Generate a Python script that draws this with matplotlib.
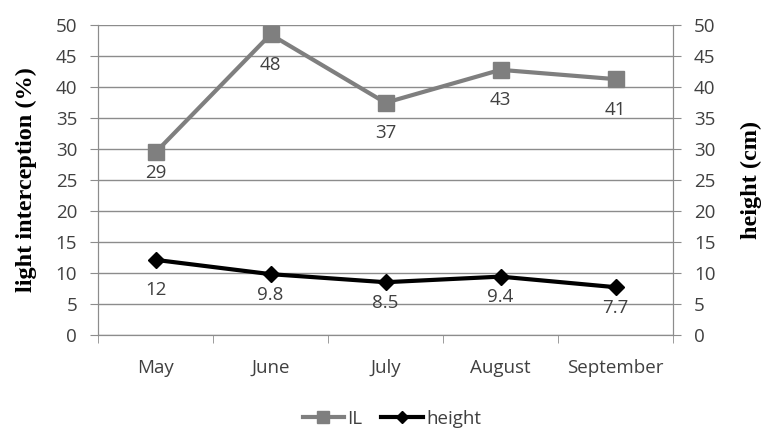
import numpy as np
import matplotlib.pyplot as plt

months = ["May", "June", "July", "August", "September"]
il_values = [29.4, 48.4, 37.4, 42.7, 41.2]
height_values = [12.1, 9.8, 8.5, 9.4, 7.7]
il_labels = ["29", "48", "37", "43", "41"]
height_labels = ["12", "9.8", "8.5", "9.4", "7.7"]
y_ticks = [0, 5, 10, 15, 20, 25, 30, 35, 40, 45, 50]

# label distance below each point, in points (May labels sit differently)
il_offsets = [-15, -22, -22, -22, -22]
height_offsets = [-21.5, -15, -15, -15, -15]

tick_font = "Open Sans"
label_font = "Liberation Serif"
grid_color = "#8c8c8c"
text_color = "#404040"
fs = 13.5

fig = plt.figure(figsize=(7.65, 4.3), dpi=100)
ax = fig.add_axes([98 / 765, 95 / 430, 575 / 765, 310.5 / 430])
ax2 = ax.twinx()

x = np.arange(len(months))
ax.plot(x, il_values, color="#7f7f7f", lw=3, marker="s", ms=11, label="IL", zorder=3)
ax.plot(x, height_values, color="black", lw=3, marker="D", ms=8, label="height", zorder=3)

for xi, v, t, off in zip(x, il_values, il_labels, il_offsets):
    ax.annotate(t, (xi, v), xytext=(0, off), textcoords="offset points", ha="center", va="center",
                fontsize=fs, family=tick_font, color=text_color)
for xi, v, t, off in zip(x, height_values, height_labels, height_offsets):
    ax.annotate(t, (xi, v), xytext=(0, off), textcoords="offset points", ha="center", va="center",
                fontsize=fs, family=tick_font, color=text_color)

for a in (ax, ax2):
    a.set_ylim(0, 50)
    a.set_yticks(y_ticks)
    a.set_yticklabels([str(t) for t in y_ticks], fontsize=fs, family=tick_font, color=text_color)
    a.tick_params(axis="y", length=6, color=grid_color, pad=9)
    for s in a.spines.values():
        s.set_color(grid_color)
    a.spines["top"].set_visible(False)

ax.set_xlim(-0.5, len(months) - 0.5)
ax.set_xticks(x)
ax.set_xticklabels(months, fontsize=fs, family=tick_font, color=text_color)
ax.set_xticks(np.arange(len(months) + 1) - 0.5, minor=True)
ax.tick_params(axis="x", which="major", length=0, pad=17)
ax.tick_params(axis="x", which="minor", length=6, color=grid_color)
ax.yaxis.grid(True, color=grid_color, lw=1)
ax.set_axisbelow(True)

ax.set_ylabel("light interception (%)", fontsize=17.5, family=label_font, fontweight="bold")
ax2.set_ylabel("height (cm)", fontsize=17.5, family=label_font, fontweight="bold")
ax.yaxis.set_label_coords((37 - 98) / 575, 0.5)
ax2.yaxis.set_label_coords((741 - 98) / 575, 0.5)

fig.legend(loc="center", bbox_to_anchor=(392 / 765, 1 - 419 / 430), ncol=2, frameon=False,
           prop={"family": tick_font, "size": fs}, handlelength=2.2, handletextpad=0.2,
           columnspacing=1.0, labelcolor=text_color, markerscale=0.75)

fig.savefig("out.png", dpi=100)
